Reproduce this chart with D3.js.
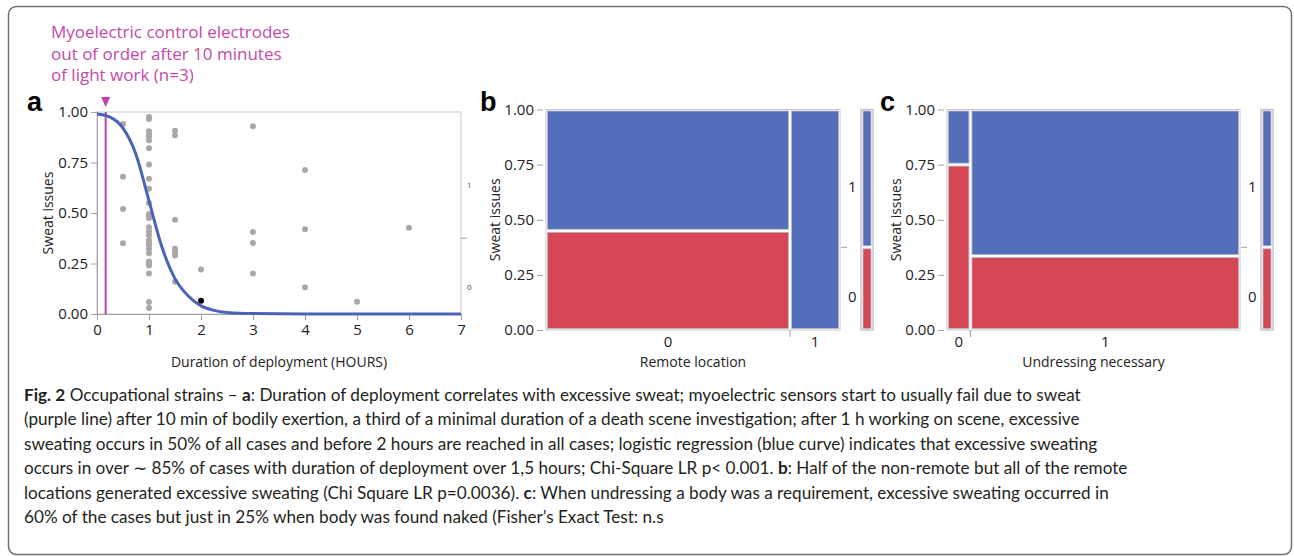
<!DOCTYPE html>
<html>
<head>
<meta charset="utf-8">
<script src="https://cdn.jsdelivr.net/npm/d3@7"></script>
<style>
  body { margin: 0; background: #fff; }
  svg { display: block; }
  .tick text { font-family: "Open Sans", sans-serif; }
</style>
</head>
<body>
<div class="container"></div>
<script>
// panel a: duration of deployment (hours) vs sweat issues (jittered points)
const durationHours = [
    0.5, 0.5, 0.5, 0.5,
    1, 1, 1, 1, 1, 1, 1, 1, 1, 1, 1, 1, 1, 1, 1, 1, 1, 1, 1, 1, 1, 1, 1, 1, 1, 1, 1, 1,
    1.5, 1.5, 1.5, 1.5, 1.5, 1.5, 1.5,
    2,
    3, 3, 3, 3,
    4, 4, 4,
    5,
    6
]
const sweatPos = [
    0.94, 0.68, 0.52, 0.35,
    0.975, 0.965, 0.905, 0.89, 0.88, 0.86, 0.82, 0.74, 0.67, 0.62, 0.55, 0.495, 0.485, 0.475, 0.43, 0.41,
    0.39, 0.365, 0.35, 0.34, 0.32, 0.30, 0.26, 0.25, 0.24, 0.20, 0.06, 0.03,
    0.907, 0.885, 0.467, 0.323, 0.307, 0.29, 0.16,
    0.22,
    0.93, 0.406, 0.351, 0.20,
    0.713, 0.419, 0.132,
    0.061,
    0.427
]
const highlightPoint = { hours: 2, value: 0.066 }

// logistic fit (blue curve)
const curveHours = [0, 0.25, 0.5, 0.75, 1, 1.25, 1.5, 1.75, 2, 2.25, 2.5, 3, 4, 5, 6, 7]
const curveProb = [0.99, 0.975, 0.92, 0.79, 0.56, 0.33, 0.175, 0.09, 0.04, 0.018, 0.008, 0.002, 0, 0, 0, 0]

const electrodeFailHours = 10 / 60
const annotationLines = ['Myoelectric control electrodes', 'out of order after 10 minutes', 'of light work (n=3)']

const hourTicks = [0, 1, 2, 3, 4, 5, 6, 7]
const probTicks = [0, 0.25, 0.5, 0.75, 1]

// panel b: remote location
const remoteLevels = ['0', '1']
const remoteShare = [0.83, 0.17]
const remoteNoSweat = [0.45, 0]

// panel c: undressing necessary
const undressLevels = ['0', '1']
const undressShare = [0.08, 0.92]
const undressNoSweat = [0.75, 0.335]

// overall share of "0" (no sweat issues)
const overallNoSweat = 0.375

const BLUE = '#546fb9'
const RED = '#d64755'
const PURPLE = '#c040a8'
const GRID = '#c8c8c8'
const FONT = '"Open Sans", sans-serif'

const svg = d3.select('.container')
    .append('svg')
    .attr('width', 1294)
    .attr('height', 556)

// outer frame
svg.append('rect')
    .attr('x', 8.5).attr('y', 6.5)
    .attr('width', 1283).attr('height', 548)
    .attr('rx', 8)
    .attr('fill', 'none')
    .attr('stroke', '#6f6f6f')
    .attr('stroke-width', 1.5)

const styleAxis = (g) => {
    g.selectAll('.domain').attr('stroke', '#a0a0a0')
    g.selectAll('.tick line').attr('stroke', '#a0a0a0')
    g.selectAll('.tick text').attr('fill', '#222').style('font-size', '15px')
}

const panelLabel = (x, y, t) => {
    svg.append('text')
        .attr('x', x).attr('y', y)
        .style('font-family', 'Liberation Sans, Arial, sans-serif')
        .style('font-weight', 'bold')
        .style('font-size', '27px')
        .text(t)
}

const axisTitle = (x, y, t, rotate) => {
    svg.append('text')
        .attr('transform', `translate(${x},${y})` + (rotate ? ' rotate(-90)' : ''))
        .attr('text-anchor', 'middle')
        .style('font-family', FONT)
        .style('font-size', '14px')
        .attr('fill', '#222')
        .text(t)
}

// ---------------- panel a ----------------
const xA = d3.scaleLinear().domain([0, 7]).range([97, 461])
const yA = d3.scaleLinear().domain([0, 1]).range([314, 112])

svg.append('rect')
    .attr('x', xA(0)).attr('y', yA(1))
    .attr('width', xA(7) - xA(0)).attr('height', yA(0) - yA(1))
    .attr('fill', 'none').attr('stroke', GRID)

svg.append('g')
    .attr('transform', `translate(0,${yA(0)})`)
    .call(d3.axisBottom(xA).tickValues(hourTicks).tickFormat(d3.format('d')).tickSize(6).tickPadding(4))
    .call(styleAxis)

svg.append('g')
    .attr('transform', `translate(${xA(0)},0)`)
    .call(d3.axisLeft(yA).tickValues(probTicks).tickFormat(d3.format('.2f')).tickSize(6).tickPadding(3))
    .call(styleAxis)

// right-hand level axis
const rightA = svg.append('g').attr('transform', `translate(${xA(7)},0)`)
rightA.append('line')
    .attr('x1', 0).attr('x2', 6)
    .attr('y1', yA(overallNoSweat)).attr('y2', yA(overallNoSweat))
    .attr('stroke', '#a0a0a0')
rightA.selectAll('text.lvl')
    .data([{ t: '1', v: 0.64 }, { t: '0', v: 0.135 }])
    .enter().append('text')
    .attr('class', 'lvl')
    .attr('x', 6)
    .attr('y', d => yA(d.v) + 3)
    .style('font-family', FONT)
    .style('font-size', '8px')
    .attr('fill', '#444')
    .text(d => d.t)

svg.selectAll('circle.pt')
    .data(durationHours.map((h, i) => ({ h, v: sweatPos[i] })))
    .enter().append('circle')
    .attr('class', 'pt')
    .attr('cx', d => xA(d.h))
    .attr('cy', d => yA(d.v))
    .attr('r', 3)
    .attr('fill', '#aba7a7')

svg.append('circle')
    .attr('cx', xA(highlightPoint.hours))
    .attr('cy', yA(highlightPoint.value))
    .attr('r', 3)
    .attr('fill', '#000')

// purple marker line
svg.append('line')
    .attr('x1', xA(electrodeFailHours)).attr('x2', xA(electrodeFailHours))
    .attr('y1', yA(1)).attr('y2', yA(0))
    .attr('stroke', PURPLE).attr('stroke-width', 2)

svg.append('path')
    .attr('d', `M${xA(electrodeFailHours) - 4.5},${yA(1) - 15} L${xA(electrodeFailHours) + 4.5},${yA(1) - 15} L${xA(electrodeFailHours)},${yA(1) - 5} Z`)
    .attr('fill', PURPLE)

const lineA = d3.line()
    .x((d, i) => xA(curveHours[i]))
    .y(d => yA(d))
    .curve(d3.curveMonotoneX)

svg.append('path')
    .datum(curveProb)
    .attr('d', lineA)
    .attr('fill', 'none')
    .attr('stroke', '#4a62b8')
    .attr('stroke-width', 3)

svg.append('g')
    .selectAll('text')
    .data(annotationLines)
    .enter().append('text')
    .attr('x', 51)
    .attr('y', (d, i) => 38 + i * 21.5)
    .style('font-family', FONT)
    .style('font-size', '17px')
    .attr('fill', '#c44aa8')
    .text(d => d)

panelLabel(27, 111, 'a')
axisTitle(53, yA(0.5), 'Sweat issues', true)
axisTitle((xA(0) + xA(7)) / 2, 367, 'Duration of deployment (HOURS)')

// ---------------- mosaic panels ----------------
const drawMosaic = (opt) => {
    const y = d3.scaleLinear().domain([0, 1]).range([330, 109.5])
    const x = d3.scaleLinear().domain([0, 1]).range([opt.x0, opt.x1])
    const cum = d3.cumsum(opt.share)
    const starts = opt.share.map((s, i) => cum[i] - s)

    svg.append('rect')
        .attr('x', x(0)).attr('y', y(1))
        .attr('width', x(1) - x(0)).attr('height', y(0) - y(1))
        .attr('fill', '#fff').attr('stroke', GRID)

    const cells = []
    opt.levels.forEach((lvl, i) => {
        cells.push({ a: starts[i], b: cum[i], lo: 0, hi: opt.noSweat[i], c: RED })
        cells.push({ a: starts[i], b: cum[i], lo: opt.noSweat[i], hi: 1, c: BLUE })
    })
    svg.append('g').selectAll('rect')
        .data(cells.filter(d => d.hi - d.lo > 0))
        .enter().append('rect')
        .attr('x', d => x(d.a) + 1.5)
        .attr('y', d => y(d.hi) + 1.5)
        .attr('width', d => x(d.b) - x(d.a) - 3)
        .attr('height', d => Math.max(0, y(d.lo) - y(d.hi) - 3))
        .attr('fill', d => d.c)
        .attr('stroke', '#b9b9c4')
        .attr('stroke-width', 0.8)

    // y axis
    svg.append('g')
        .attr('transform', `translate(${x(0) - 3},0)`)
        .call(d3.axisLeft(y).tickValues(probTicks).tickFormat(d3.format('.2f')).tickSize(6).tickPadding(3))
        .call(styleAxis)
        .call(g => g.select('.domain').remove())

    // x axis: category labels and separators
    const xg = svg.append('g').attr('transform', `translate(0,${y(0)})`)
    xg.selectAll('line')
        .data(starts.slice(1))
        .enter().append('line')
        .attr('x1', d => x(d)).attr('x2', d => x(d))
        .attr('y1', 0).attr('y2', 7)
        .attr('stroke', '#a0a0a0')
    xg.selectAll('text')
        .data(opt.levels)
        .enter().append('text')
        .attr('x', (d, i) => x((starts[i] + cum[i]) / 2))
        .attr('y', 17)
        .attr('text-anchor', 'middle')
        .style('font-family', FONT)
        .style('font-size', '15px')
        .attr('fill', '#222')
        .text(d => d)

    // right level axis
    const rx = x(1)
    svg.append('line')
        .attr('x1', rx + 1).attr('x2', rx + 7)
        .attr('y1', y(overallNoSweat)).attr('y2', y(overallNoSweat))
        .attr('stroke', '#a0a0a0')
    svg.selectAll(null)
        .data([{ t: '1', v: 0.65 }, { t: '0', v: 0.15 }])
        .enter().append('text')
        .attr('x', rx + 8)
        .attr('y', d => y(d.v) + 5)
        .style('font-family', FONT)
        .style('font-size', '15px')
        .attr('fill', '#222')
        .text(d => d.t)

    // marginal bar
    const mx = rx + 21
    svg.append('rect')
        .attr('x', mx).attr('y', y(1))
        .attr('width', 12).attr('height', y(0) - y(1))
        .attr('fill', '#fff').attr('stroke', GRID).attr('stroke-width', 1.5)
    svg.append('rect')
        .attr('x', mx + 2).attr('y', y(overallNoSweat) + 1.5)
        .attr('width', 8).attr('height', y(0) - y(overallNoSweat) - 3)
        .attr('fill', RED).attr('stroke', '#b9b9c4').attr('stroke-width', 0.8)
    svg.append('rect')
        .attr('x', mx + 2).attr('y', y(1) + 1.5)
        .attr('width', 8).attr('height', y(overallNoSweat) - y(1) - 3)
        .attr('fill', BLUE).attr('stroke', '#b9b9c4').attr('stroke-width', 0.8)

    panelLabel(opt.labelX, 111, opt.label)
    axisTitle(opt.titleYX, y(0.5), 'Sweat issues', true)
    axisTitle((x(0) + x(1)) / 2, 367, opt.title)
}

drawMosaic({
    x0: 546, x1: 840, share: remoteShare, noSweat: remoteNoSweat, levels: remoteLevels,
    label: 'b', labelX: 480, titleYX: 500, title: 'Remote location'
})
drawMosaic({
    x0: 947, x1: 1240, share: undressShare, noSweat: undressNoSweat, levels: undressLevels,
    label: 'c', labelX: 880, titleYX: 901, title: 'Undressing necessary'
})

// ---------------- caption ----------------
const captionLines = [
    [['Fig. 2', true], [' Occupational strains – ', false], ['a', true], [': Duration of deployment correlates with excessive sweat; myoelectric sensors start to usually fail due to sweat', false]],
    [['(purple line) after 10 min of bodily exertion, a third of a minimal duration of a death scene investigation; after 1 h working on scene, excessive', false]],
    [['sweating occurs in 50% of all cases and before 2 hours are reached in all cases; logistic regression (blue curve) indicates that excessive sweating', false]],
    [['occurs in over ∼ 85% of cases with duration of deployment over 1,5 hours; Chi-Square LR p< 0.001. ', false], ['b', true], [': Half of the non-remote but all of the remote', false]],
    [['locations generated excessive sweating (Chi Square LR p=0.0036). ', false], ['c', true], [': When undressing a body was a requirement, excessive sweating occurred in', false]],
    [['60% of the cases but just in 25% when body was found naked (Fisher’s Exact Test: n.s', false]]
]

const cap = svg.append('g')
    .style('font-family', 'Lato, sans-serif')
    .style('font-size', '17px')
    .attr('fill', '#231f20')

const capText = cap.selectAll('text')
    .data(captionLines)
    .enter().append('text')
    .attr('x', 24)
    .attr('y', (d, i) => 401 + i * 24.4)

capText.selectAll('tspan')
    .data(d => d)
    .enter().append('tspan')
    .style('font-weight', d => d[1] ? 'bold' : 'normal')
    .text(d => d[0])

// fit caption size so the 4th line spans like in the figure
const w4 = capText.nodes()[3].getComputedTextLength()
cap.style('font-size', (17 * 1104 / w4) + 'px')
</script>
</body>
</html>
